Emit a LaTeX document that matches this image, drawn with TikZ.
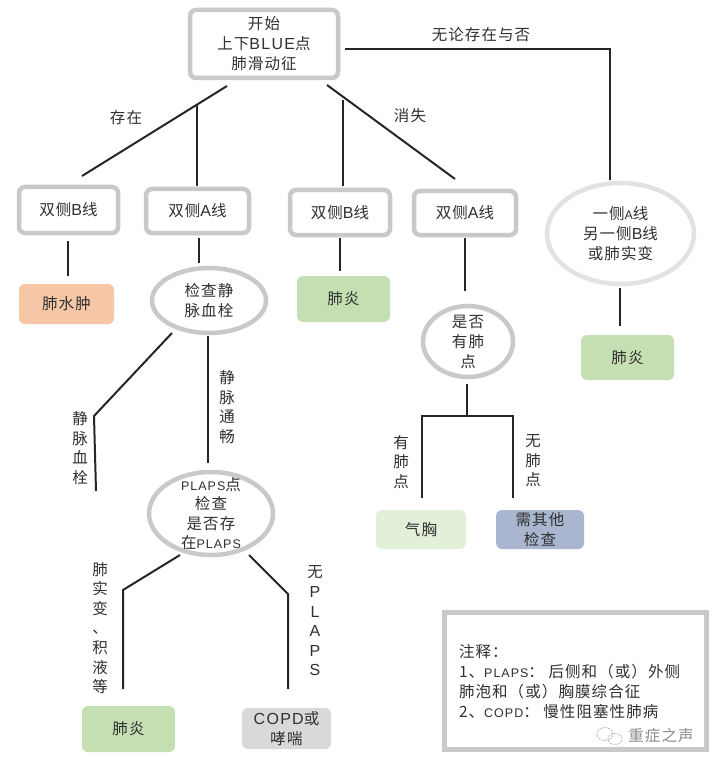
\documentclass[tikz,border=0pt]{standalone}
\usepackage{fontspec}
\setmainfont{Noto Sans CJK SC}[LetterSpace=7]
\newfontfamily\lat{Liberation Sans}[LetterSpace=8]
\usetikzlibrary{shapes.geometric}
\newcommand{\tsz}{\fontsize{15.5}{20}\selectfont}
\newcommand{\la}[1]{{\lat\fontsize{16}{20}\selectfont #1}}
\newcommand{\las}[1]{{\lat\fontsize{12.5}{20}\selectfont #1}}
\definecolor{ink}{HTML}{303030}
\definecolor{frame}{HTML}{C9C9C9}
\definecolor{framelight}{HTML}{E2E2E2}
\definecolor{peach}{HTML}{F6C7A6}
\definecolor{lgreen}{HTML}{C5DFB2}
\definecolor{pale}{HTML}{E3F0D9}
\definecolor{slate}{HTML}{AAB6CF}
\definecolor{lgray}{HTML}{D9D9D9}
\tikzset{
  base/.style={inner sep=0pt,outer sep=0pt,align=center,text=ink,font=\tsz},
  framed/.style={base,draw=frame,line width=4.5pt,rounded corners=6pt,fill=white},
  ringed/.style={base,draw=frame,line width=4.5pt,ellipse,fill=white},
  filled/.style={base,rounded corners=6pt},
  conn/.style={line width=2pt,draw=black!85,line join=miter},
  lbl/.style={base},
  vlbl/.style={base,font=\fontsize{15.5}{19.6}\selectfont},
}
\begin{document}
\begin{tikzpicture}[x=1pt,y=-1pt]
\useasboundingbox (0,0) rectangle (717,767);
\fill[white] (0,0) rectangle (717,767);
% nodes
\node[framed,minimum width=148pt,minimum height=68pt] (start) at (264,44) {开始\\上下\la{BLUE}点\\肺滑动征};
\node[framed,minimum width=99pt,minimum height=46pt] (b1) at (68.5,210) {双侧\la{B}线};
\node[framed,minimum width=103pt,minimum height=44pt] (a1) at (197.5,211) {双侧\la{A}线};
\node[framed,minimum width=100pt,minimum height=45pt] (b2) at (340,212.5) {双侧\la{B}线};
\node[framed,minimum width=102pt,minimum height=44pt] (a2) at (465,213) {双侧\la{A}线};
\node[ringed,draw=framelight,minimum width=147pt,minimum height=101pt] (oneside) at (620.5,233.5) {一侧\las{A}线\\另一侧\la{B}线\\或肺实变};
\node[ringed,minimum width=114pt,minimum height=65pt] (vein) at (209,300.5) {检查静\\脉血栓};
\node[ringed,minimum width=90pt,minimum height=71pt,inner ysep=-6pt] (point) at (468,341.5) {是否\\有肺\\点};
\node[ringed,minimum width=124pt,minimum height=83pt,inner ysep=-10pt,font=\fontsize{15.5}{19.5}\selectfont] (plaps) at (211,513.5) {\las{PLAPS}点\\检查\\是否存\\在\las{PLAPS}};
\node[filled,fill=peach,minimum width=95pt,minimum height=40pt] (edema) at (66.5,304) {肺水肿};
\node[filled,fill=lgreen,minimum width=93pt,minimum height=46pt] (pn2) at (343.5,299) {肺炎};
\node[filled,fill=lgreen,minimum width=93pt,minimum height=45pt] (pn3) at (627.5,357.5) {肺炎};
\node[filled,fill=lgreen,minimum width=93pt,minimum height=46pt] (pn1) at (128.5,729) {肺炎};
\node[filled,fill=lgray,minimum width=89pt,minimum height=41pt] (copd) at (286.5,728.5) {\la{COPD}或\\哮喘};
\node[filled,fill=pale,minimum width=90pt,minimum height=39pt] (ptx) at (421,529.5) {气胸};
\node[filled,fill=slate,minimum width=88pt,minimum height=39pt] (other) at (540,529.5) {需其他\\检查};
\node[base,draw=frame,line width=5pt,minimum width=262pt,minimum height=137pt,fill=white] (note) at (575.5,681) {};
\node[base,align=left,anchor=north west] (notetext) at (459,644) {注释：\\1、\las{PLAPS}： 后侧和（或）外侧\\肺泡和（或）胸膜综合征\\2、\las{COPD}： 慢性阻塞性肺病};
\node[base,text=black!45] (mark) at (661,736) {重症之声};
% connector ends and junctions
\coordinate (s1) at (227,86);   \coordinate (s1e) at (82,176);
\coordinate (j1) at (197,104);  \coordinate (j1e) at (197,186);
\coordinate (s2) at (327,85);   \coordinate (s2e) at (455,179);
\coordinate (j2) at (343,100);  \coordinate (j2e) at (343,186);
\coordinate (s3) at (345,49);   \coordinate (s3c) at (610,49);  \coordinate (s3e) at (610,180);
\coordinate (t1) at (68,241);   \coordinate (t1e) at (68,276);
\coordinate (t2) at (199,238);  \coordinate (t2e) at (199,263);
\coordinate (t3) at (340,238);  \coordinate (t3e) at (340,271);
\coordinate (t4) at (465,238);  \coordinate (t4e) at (465,291);
\coordinate (t5) at (620,288);  \coordinate (t5e) at (620,326);
\coordinate (v1) at (172,333);  \coordinate (v1c) at (94,416);  \coordinate (v1e) at (96,491);
\coordinate (v2) at (208,336);  \coordinate (v2e) at (208,463);
\coordinate (p0) at (467,384);  \coordinate (p0c) at (467,416);
\coordinate (pl) at (422,416);  \coordinate (ple) at (422,498);
\coordinate (pr) at (513,416);  \coordinate (pre) at (513,498);
\coordinate (q1) at (180,555);  \coordinate (q1c) at (123,590); \coordinate (q1e) at (123,689);
\coordinate (q2) at (249,555);  \coordinate (q2c) at (288,594); \coordinate (q2e) at (288,689);
% connectors
\draw[conn] (s1) -- (s1e);
\draw[conn] (j1) -- (j1e);
\draw[conn] (s2) -- (s2e);
\draw[conn] (j2) -- (j2e);
\draw[conn] (s3) -- (s3c) -- (s3e);
\draw[conn] (t1) -- (t1e);
\draw[conn] (t2) -- (t2e);
\draw[conn] (t3) -- (t3e);
\draw[conn] (t4) -- (t4e);
\draw[conn] (t5) -- (t5e);
\draw[conn] (v1) -- (v1c) -- (v1e);
\draw[conn] (v2) -- (v2e);
\draw[conn] (p0) -- (p0c);
\draw[conn] (ple) -- (pl) -- (pr) -- (pre);
\draw[conn] (q1) -- (q1c) -- (q1e);
\draw[conn] (q2) -- (q2c) -- (q2e);
% labels
\node[lbl] (l1) at (126,118) {存在};
\node[lbl] (l2) at (410,116) {消失};
\node[lbl] (l3) at (481,35) {无论存在与否};
\node[vlbl] (l4) at (80,448) {静\\脉\\血\\栓};
\node[vlbl] (l5) at (227,407) {静\\脉\\通\\畅};
\node[vlbl] (l6) at (100,628) {肺\\实\\变\\、\\积\\液\\等};
\node[vlbl] (l7) at (315,621) {无\\\la{P}\\\la{L}\\\la{A}\\\la{P}\\\la{S}};
\node[vlbl] (l8) at (401,462) {有\\肺\\点};
\node[vlbl] (l9) at (533,461) {无\\肺\\点};
% watermark icon
\draw[black!30,line width=.7pt,dash pattern=on 2pt off 1pt] (605,734) ellipse (8pt and 6.5pt);
\draw[black!30,line width=.7pt,dash pattern=on 2pt off 1pt] (615,739) ellipse (7pt and 5.5pt);
\end{tikzpicture}
\end{document}
